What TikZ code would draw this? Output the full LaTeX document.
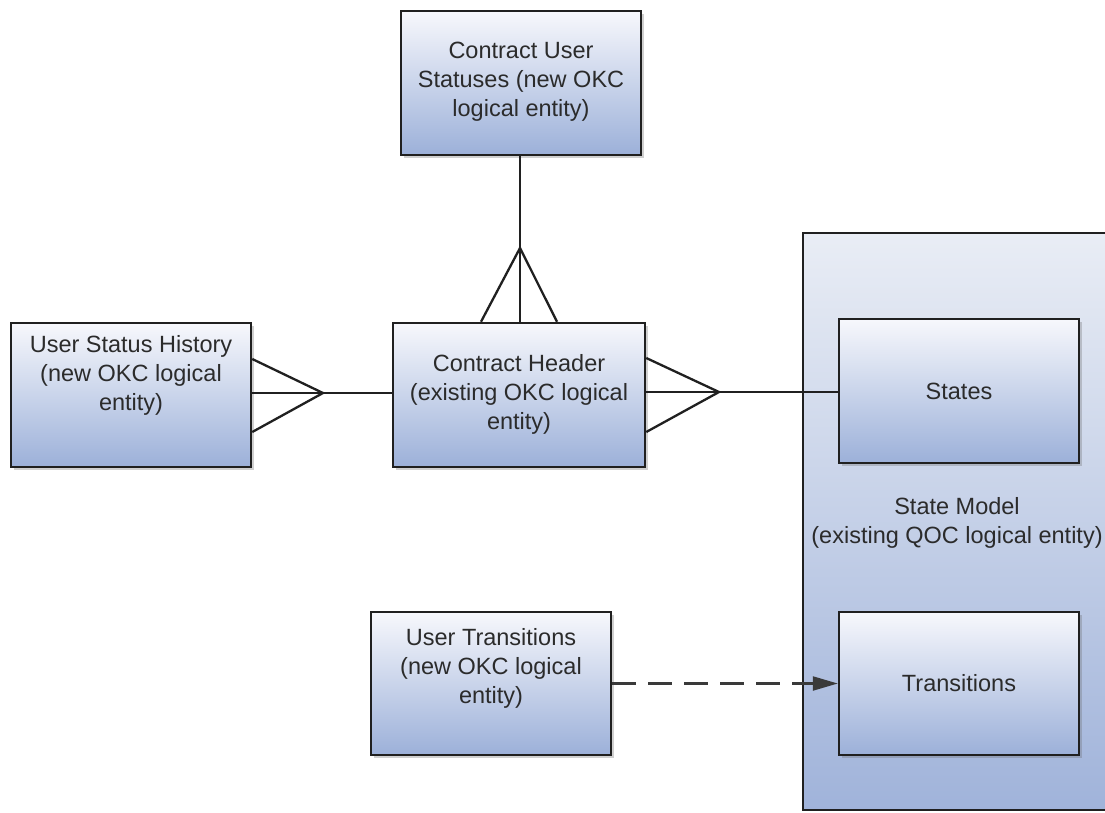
\documentclass[tikz,border=0pt]{standalone}
\usepackage{fontspec}
\setmainfont{Liberation Sans}
\usetikzlibrary{arrows.meta,shadows}
\definecolor{boxtop}{HTML}{F7F8FC}
\definecolor{boxbot}{HTML}{9CB0D9}
\definecolor{bigtop}{HTML}{E9EDF5}
\definecolor{bigbot}{HTML}{A0B3DA}
\definecolor{edge}{HTML}{202020}
\definecolor{txt}{HTML}{2B2B2B}
\definecolor{dash}{HTML}{3A3A3A}
\begin{document}
\begin{tikzpicture}[x=1pt,y=-1pt,
  entity/.style={draw=edge, line width=2.5pt, top color=boxtop, bottom color=boxbot,
    minimum width=240pt, minimum height=144pt, inner sep=0pt,
    drop shadow={shadow xshift=3pt, shadow yshift=-3pt, opacity=0.3, fill=black!60}},
  bigbox/.style={draw=edge, line width=2.5pt, top color=bigtop, bottom color=bigbot,
    minimum width=330pt, minimum height=577pt, inner sep=0pt},
  label/.style={text=txt, align=center, inner sep=0pt, font=\fontsize{23.5}{29}\selectfont},
  conn/.style={draw=edge, line width=2.3pt},
  dashline/.style={draw=dash, line width=2.3pt, dash pattern=on 24pt off 12pt,
    -{Triangle[length=25pt,width=14pt]}}]
\useasboundingbox (0,0) rectangle (1105,812);
\clip (0,0) rectangle (1105,812);
\fill[white] (0,0) rectangle (1105,812);

% State model container
\node[bigbox] (sm) at (968,521.5) {};
\node[label] (smt) at (957,523) {State Model\\(existing QOC logical entity)};

% Entities
\node[entity] (cus) at (521,83) {};
\node[label] (cust) at (521,82) {Contract User\\Statuses (new OKC\\logical entity)};

\node[entity, minimum width=252pt] (hdr) at (519,395) {};
\node[label] (hdrt) at (519,394) {Contract Header\\(existing OKC logical\\entity)};

\node[entity] (ush) at (131,395) {};
\node[label] (usht) at (131,375) {User Status History\\(new OKC logical\\entity)};

\node[entity, minimum height=143pt] (ut) at (491,683.5) {};
\node[label] (utt) at (491,668) {User Transitions\\(new OKC logical\\entity)};

\node[entity] (st) at (959,391) {};
\node[label] (stt) at (959,391) {States};

\node[entity, minimum height=143pt] (tr) at (959,683.5) {};
\node[label] (trt) at (959,683) {Transitions};

% Crow's foot: Contract User Statuses -- Contract Header
\coordinate (a1) at (520,248);
\draw[conn] (a1 |- cus.south) -- (a1) -- (a1 |- hdr.north);
\draw[conn] ([xshift=-39pt]a1 |- hdr.north) -- (a1) -- ([xshift=37pt]a1 |- hdr.north);

% Crow's foot: User Status History -- Contract Header
\coordinate (a2) at (323,393);
\draw[conn] (ush.east |- a2) -- (hdr.west |- a2);
\draw[conn] ([yshift=36pt]ush.east) -- (a2) -- ([yshift=-37pt]ush.east);

% Crow's foot: Contract Header -- States
\coordinate (a3) at (719,392);
\draw[conn] (hdr.east |- a3) -- (st.west |- a3);
\draw[conn] ([yshift=37pt]hdr.east) -- (a3) -- ([yshift=-37pt]hdr.east);

% Dashed dependency
\draw[dashline] (ut.east) -- (tr.west);
\end{tikzpicture}
\end{document}
